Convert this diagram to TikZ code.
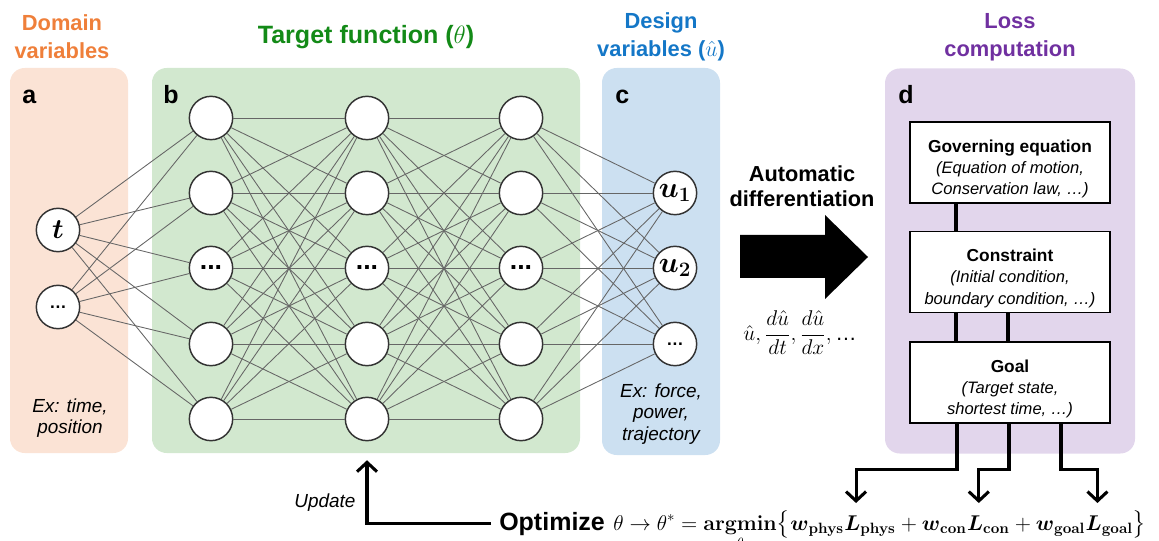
\RequirePackage{fix-cm}
\documentclass[tikz,border=0pt]{standalone}
\usepackage{amsmath}
\usepackage[no-math]{fontspec}
\setmainfont{Liberation Sans}
\usetikzlibrary{arrows.meta,calc}

\definecolor{fillA}{HTML}{FBE3D5}
\definecolor{fillB}{HTML}{D2E8CF}
\definecolor{fillC}{HTML}{CCE0F1}
\definecolor{fillD}{HTML}{E2D6EC}
\definecolor{hdrOrange}{HTML}{EF7F3A}
\definecolor{hdrGreen}{HTML}{138A17}
\definecolor{hdrBlue}{HTML}{1477C7}
\definecolor{hdrPurple}{HTML}{7030A0}
\definecolor{ringgray}{HTML}{333333}
\definecolor{linkgray}{HTML}{666666}

\newcommand{\setsz}[2]{\fontsize{#1}{#2}\selectfont}

\begin{document}
\begin{tikzpicture}[x=0.75pt, y=-0.75pt,
  panel/.style={rounded corners=11pt, inner sep=0pt},
  neuron/.style={circle, draw=ringgray, line width=1.1pt, fill=white,
                 minimum size=32.5pt, inner sep=0pt},
  link/.style={draw=linkgray, line width=0.65pt},
  hdr/.style={align=center, font=\bfseries\setsz{16.4}{21}},
  tag/.style={anchor=base west, inner sep=0pt, font=\bfseries\setsz{18.75}{20}},
  note/.style={align=center, font=\itshape\setsz{14.2}{16}},
  lossbox/.style={draw=black, line width=1.1pt, fill=white, minimum width=150pt,
                  minimum height=61pt, inner sep=0pt, align=center,
                  font=\itshape\setsz{12.4}{16}},
  bar/.style={line width=2.3pt},
  flow/.style={line width=2.3pt, -{Straight Barb[length=7pt,width=15pt]}},
  term/.style={anchor=base west, inner sep=0pt, font=\setsz{16}{20}},
]
\useasboundingbox (0,0) rectangle (1159,541);

% background panels
\node[panel, fill=fillA, minimum width=88.5pt, minimum height=288.75pt] (pa) at (69,260.5) {};
\node[panel, fill=fillB, minimum width=321pt, minimum height=288.75pt] (pb) at (366,260.5) {};
\node[panel, fill=fillC, minimum width=88.5pt, minimum height=290.25pt] (pc) at (661,261.5) {};
\node[panel, fill=fillD, minimum width=187.5pt, minimum height=288.75pt] (pd) at (1010,261) {};

% headers
\node[hdr, text=hdrOrange] (ha) at (62,37) {Domain\\variables};
\node[hdr, text=hdrGreen, font=\bfseries\setsz{18.8}{22}] (hb) at (366,37) {Target function ($\theta$)};
\node[hdr, text=hdrBlue] (hc) at (661,37) {Design\\variables ($\hat{u}$)};
\node[hdr, text=hdrPurple] (hd) at (1010,37) {Loss\\computation};

% panel letters
\node[tag] (ta) at (22,104) {a};
\node[tag] (tb) at (163,104) {b};
\node[tag] (tc) at (615,104) {c};
\node[tag] (td) at (898,104) {d};

% input layer
\node[neuron, font=\setsz{21}{21}] (i1) at (58,230) {$\boldsymbol{t}$};
\node[neuron, font=\bfseries\setsz{13}{13}] (i2) at (58,307) {…};

% hidden layers
\foreach \l/\x in {1/211,2/367,3/521} {
  \foreach \k/\y in {1/118,2/193,4/344,5/419} {
    \node[neuron] (h\l\k) at (\x,\y) {};
  }
  \node[neuron, font=\bfseries\setsz{20}{20}] (h\l3) at (\x,268) {...};
}

% output layer
\node[neuron, font=\setsz{22}{22}] (o1) at (675,193) {$\boldsymbol{u}_{\mathbf{1}}$};
\node[neuron, font=\setsz{22}{22}] (o2) at (675,268) {$\boldsymbol{u}_{\mathbf{2}}$};
\node[neuron, font=\bfseries\setsz{13}{13}] (o3) at (675,344) {…};

% connections
\foreach \a in {1,2} {\foreach \b in {1,...,5} {\draw[link] (i\a) -- (h1\b);}}
\foreach \a in {1,...,5} {\foreach \b in {1,...,5} {
  \draw[link] (h1\a) -- (h2\b);
  \draw[link] (h2\a) -- (h3\b);}}
\foreach \a in {1,...,5} {\foreach \b in {1,2,3} {\draw[link] (h3\a) -- (o\b);}}

% notes
\node[note] (exa) at (70,418) {Ex: time,\\position};
\node[note] (exc) at (661,414) {Ex: force,\\power,\\trajectory};

% automatic differentiation arrow
\node[align=center, font=\bfseries\setsz{16.3}{18.75}] (ad) at (802,186) {Automatic\\differentiation};
\fill (740,235) -- (825,235) -- (825,215) -- (868,257) -- (825,299) -- (825,278) -- (740,278) -- cycle;
\node[font=\setsz{16}{18}] (der) at (800,333) {$\displaystyle \hat{u},\frac{d\hat{u}}{dt},\frac{d\hat{u}}{dx},\text{…}$};

% loss terms
\node[lossbox] (gov) at (1010,162.5) {{\normalfont\bfseries\setsz{13}{16}\rule{0pt}{19pt}Governing equation}\\(Equation of motion,\\Conservation law, …)};
\node[lossbox] (con) at (1010,272) {{\normalfont\bfseries\setsz{13}{16}\rule{0pt}{19pt}Constraint}\\(Initial condition,\\boundary condition, …)};
\node[lossbox] (goal) at (1010,382.5) {{\normalfont\bfseries\setsz{13}{16}\rule{0pt}{19pt}Goal}\\(Target state,\\shortest time, …)};

\draw[bar] ($(gov.south)+(-54,0)$) -- ($(con.north)+(-54,0)$);
\draw[bar] ($(con.south)+(-54,0)$) -- ($(goal.north)+(-54,0)$);
\draw[bar] ($(con.south)+(-2,0)$) -- ($(goal.north)+(-2,0)$);

% optimisation objective
\node[anchor=base west, inner sep=0pt, font=\bfseries\setsz{18.75}{20}] (opt) at (499,530) {Optimize};
\node[term] (f1) at ($(opt.base east)+(8,0)$) {$\displaystyle\theta\to\theta^{*}=\operatorname*{\mathbf{argmin}}_{\theta}\bigl\{\boldsymbol{w}_{\mathbf{phys}}$};
\node[term] (Lp) at (f1.base east) {$\boldsymbol{L}_{\mathbf{phys}}$};
\node[term] (f2) at (Lp.base east) {${}+\boldsymbol{w}_{\mathbf{con}}$};
\node[term] (Lc) at (f2.base east) {$\boldsymbol{L}_{\mathbf{con}}$};
\node[term] (f3) at (Lc.base east) {${}+\boldsymbol{w}_{\mathbf{goal}}$};
\node[term] (Lg) at (f3.base east) {$\boldsymbol{L}_{\mathbf{goal}}\bigr\}$};

\draw[flow] ($(goal.south)+(-53,0)$) -- ++(0,46) -| ($(Lp.base west)+(12,-27)$);
\draw[flow] ($(goal.south)+(-1,0)$) -- ++(0,46) -| ($(Lc.base west)+(12,-27)$);
\draw[flow] ($(goal.south)+(51,0)$) -- ++(0,46) -| ($(Lg.base west)+(12,-27)$);

% update feedback
\node[font=\itshape\setsz{14.2}{16}] (upd) at (325,503) {Update};
\draw[flow] ($(opt.west)+(-8,0)$) -| ($(h25 |- pb.south)+(0,7)$);
\end{tikzpicture}
\end{document}
